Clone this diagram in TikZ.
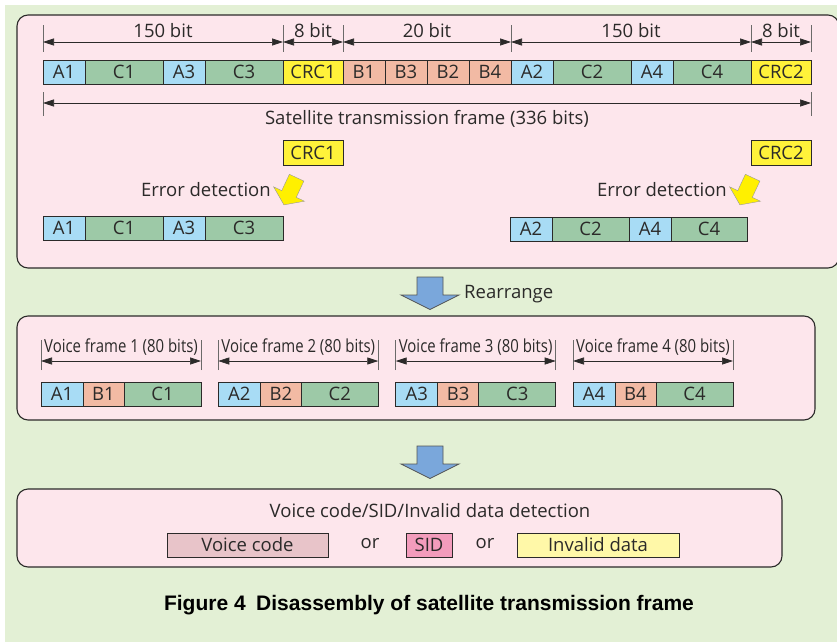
\documentclass[tikz,border=0pt]{standalone}
\usepackage{fontspec}
\setmainfont{Open Sans}
\newfontfamily\condfont[FakeStretch=0.83]{Open Sans}
\newfontfamily\capfont{Liberation Sans}
\usetikzlibrary{positioning, arrows.meta}

\definecolor{bggreen}{HTML}{E3F0D5}
\definecolor{panelpink}{HTML}{FDE6EC}
\definecolor{ablue}{HTML}{A8DCF5}
\definecolor{cgreen}{HTML}{9DC9A7}
\definecolor{bsalmon}{HTML}{F2BAA4}
\definecolor{crcyellow}{HTML}{FFF23A}
\definecolor{arrowblue}{HTML}{7AA7DB}
\definecolor{arrowyellow}{HTML}{FFF000}
\definecolor{vcpink}{HTML}{E8C4C9}
\definecolor{sidpink}{HTML}{F39CBC}
\definecolor{invyellow}{HTML}{FFF8A8}
\definecolor{inkgray}{HTML}{2B2A29}

\tikzset{
  cell/.style={draw=inkgray, line width=0.9pt, minimum height=24pt, inner sep=0pt, outer sep=0pt,
    font=\fontsize{18.5}{18.5}\selectfont, text=inkgray},
  panel/.style={draw=inkgray, line width=1.1pt, fill=panelpink, rounded corners=11pt},
  dimline/.style={{Triangle[length=11pt,width=7pt]}-{Triangle[length=11pt,width=7pt]}, line width=0.7pt, draw=inkgray},
  dimtick/.style={line width=0.7pt, draw=inkgray!70},
  dimlabel/.style={font=\fontsize{18.5}{18.5}\selectfont, text=inkgray, inner sep=1pt},
  voicelabel/.style={font=\condfont\fontsize{18}{18}\selectfont, text=inkgray, inner sep=1pt},
  blockarrow/.style={draw=inkgray!80, line width=0.8pt, fill=arrowblue},
  errarrow/.style={fill=arrowyellow, draw=black!40, line width=0.4pt},
}

\begin{document}
\begin{tikzpicture}[x=1pt, y=1pt]
  \useasboundingbox (0,0) rectangle (837,-642);
  \fill[bggreen] (5,-5) rectangle (837,-642);

  % panels
  \draw[panel] (17,-15) rectangle (839,-268);
  \draw[panel] (17,-316) rectangle (815,-420);
  \draw[panel] (17,-489) rectangle (782,-567);

  % satellite transmission frame
  \coordinate (t-start) at (43,-72);
  \foreach \name/\w/\col/\txt [remember=\name as \prev (initially start)] in
    {a1/42/ablue/A1, c1/78/cgreen/C1, a3/42/ablue/A3, c3/78/cgreen/C3, crc1/60/crcyellow/CRC1,
     b1/42/bsalmon/B1, b3/42/bsalmon/B3, b2/42/bsalmon/B2, b4/42/bsalmon/B4,
     a2/42/ablue/A2, c2/78/cgreen/C2, a4/42/ablue/A4, c4/78/cgreen/C4, crc2/60/crcyellow/CRC2}
    \node[cell, fill=\col, minimum width=\w pt, right=0pt of t-\prev] (t-\name) {\txt};

  \foreach \p in {t-a1.north west, t-c3.north east, t-crc1.north east, t-b4.north east, t-c4.north east, t-crc2.north east}
    \draw[dimtick] ([yshift=8pt]\p) -- ([yshift=35pt]\p);
  \draw[dimline] ([yshift=18pt]t-a1.north west) -- node[dimlabel, above=3pt] {150 bit} ([yshift=18pt]t-c3.north east);
  \draw[dimline] ([yshift=18pt]t-crc1.north west) -- node[dimlabel, above=3pt] {8 bit} ([yshift=18pt]t-crc1.north east);
  \draw[dimline] ([yshift=18pt]t-b1.north west) -- node[dimlabel, above=3pt] {20 bit} ([yshift=18pt]t-b4.north east);
  \draw[dimline] ([yshift=18pt]t-a2.north west) -- node[dimlabel, above=3pt] {150 bit} ([yshift=18pt]t-c4.north east);
  \draw[dimline] ([yshift=18pt]t-crc2.north west) -- node[dimlabel, above=3pt] {8 bit} ([yshift=18pt]t-crc2.north east);

  \foreach \p in {t-a1.south west, t-crc2.south east}
    \draw[dimtick] ([yshift=-8pt]\p) -- ([yshift=-32pt]\p);
  \draw[dimline] ([yshift=-19pt]t-a1.south west) -- node[dimlabel, below=6pt] {Satellite transmission frame (336 bits)} ([yshift=-19pt]t-crc2.south east);

  % error detection
  \node[cell, fill=crcyellow, minimum width=60pt, minimum height=25pt, below=56pt of t-crc1] (e-crc1) {CRC1};
  \node[cell, fill=crcyellow, minimum width=60pt, minimum height=25pt, below=56pt of t-crc2] (e-crc2) {CRC2};
  \node[dimlabel, anchor=east] (l-err) at (272,-190) {Error detection};
  \node[dimlabel, anchor=east] (r-err) at (728,-190) {Error detection};
  \draw[errarrow, shift={([xshift=17pt,yshift=-4pt]l-err.east)}, rotate=-25]
    (-8,18) -- (8,18) -- (8,0) -- (17,0) -- (0,-12) -- (-17,0) -- (-8,0) -- cycle;
  \draw[errarrow, shift={([xshift=17pt,yshift=-4pt]r-err.east)}, rotate=-25]
    (-8,18) -- (8,18) -- (8,0) -- (17,0) -- (0,-12) -- (-17,0) -- (-8,0) -- cycle;

  \coordinate (l-start) at (43,-228);
  \foreach \name/\w/\col/\txt [remember=\name as \prev (initially start)] in
    {a1/42/ablue/A1, c1/78/cgreen/C1, a3/42/ablue/A3, c3/78/cgreen/C3}
    \node[cell, fill=\col, minimum width=\w pt, right=0pt of l-\prev] (l-\name) {\txt};
  \coordinate (r-start) at (510,-229);
  \foreach \name/\w/\col/\txt [remember=\name as \prev (initially start)] in
    {a2/42/ablue/A2, c2/77/cgreen/C2, a4/42/ablue/A4, c4/76/cgreen/C4}
    \node[cell, fill=\col, minimum width=\w pt, right=0pt of r-\prev] (r-\name) {\txt};

  % rearrange
  \draw[blockarrow, shift={(430,-295)}]
    (-13,18) -- (13,18) -- (13,0) -- (29,0) -- (0,-14.5) -- (-29,0) -- (-13,0) -- cycle;
  \node[dimlabel, anchor=west] (rearr) at (463,-294) {Rearrange};

  % voice frames
  \foreach \i/\x in {1/41, 2/218.3, 3/395.7, 4/573} {
    \coordinate (v\i-start) at (\x,-394);
    \node[cell, fill=ablue, minimum width=42pt, right=0pt of v\i-start] (v\i-a) {A\i};
    \node[cell, fill=bsalmon, minimum width=41pt, right=0pt of v\i-a] (v\i-b) {B\i};
    \node[cell, fill=cgreen, minimum width=77pt, right=0pt of v\i-b] (v\i-c) {C\i};
    \draw[dimtick] ([yshift=12pt]v\i-a.north west) -- ([yshift=42pt]v\i-a.north west);
    \draw[dimtick] ([yshift=12pt]v\i-c.north east) -- ([yshift=42pt]v\i-c.north east);
    \draw[dimline] ([yshift=21pt]v\i-a.north west) -- node[voicelabel, above=4pt] {Voice frame \i{} (80 bits)} ([yshift=21pt]v\i-c.north east);
  }

  \draw[blockarrow, shift={(430,-464)}]
    (-13,18) -- (13,18) -- (13,0) -- (29,0) -- (0,-14.5) -- (-29,0) -- (-13,0) -- cycle;

  % detection result
  \node[dimlabel] (detect) at (430,-511) {Voice code/SID/Invalid data detection};
  \node[cell, fill=vcpink, minimum width=161pt] (voicecode) at (247.5,-545) {Voice code};
  \node[dimlabel] (or1) at (370,-544) {or};
  \node[cell, fill=sidpink, minimum width=46pt] (sid) at (429,-545) {SID};
  \node[dimlabel] (or2) at (485,-544) {or};
  \node[cell, fill=invyellow, minimum width=162pt] (invalid) at (598,-545) {Invalid data};

  \node[font=\capfont\bfseries\fontsize{21}{21}\selectfont, text=black] (caption) at (429,-605)
    {Figure 4\hspace{0.5em}Disassembly of satellite transmission frame};
\end{tikzpicture}
\end{document}
